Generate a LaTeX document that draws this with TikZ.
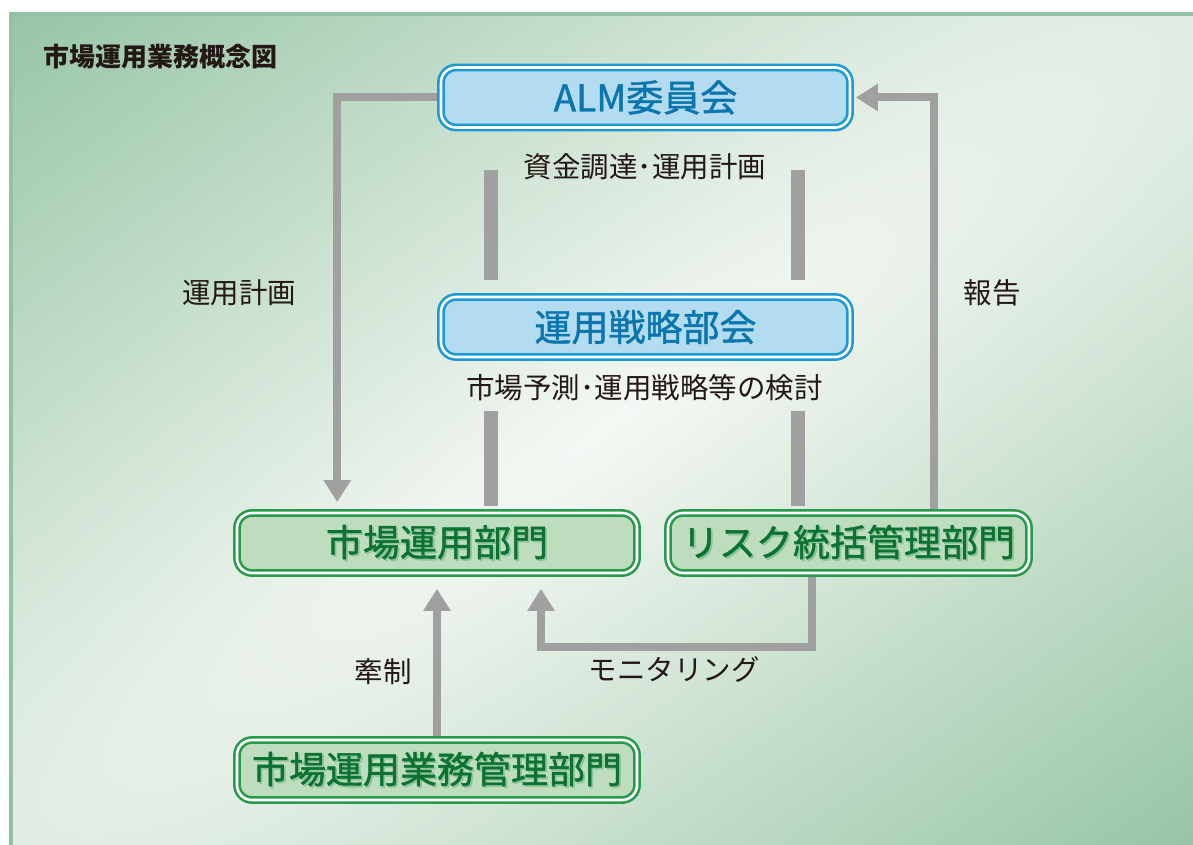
\documentclass[tikz,border=0pt]{standalone}
\usepackage{fontspec}
\setmainfont{Noto Sans CJK JP}
\newfontfamily\medfont[FakeBold=1.2]{Noto Sans CJK JP}
\usepackage{tikz}
\usetikzlibrary{arrows.meta, calc, backgrounds}
\definecolor{bgGreen}{RGB}{150,196,165}
\definecolor{bgWhite}{RGB}{245,248,244}
\definecolor{frameGreen}{RGB}{146,193,163}
\definecolor{lineGray}{RGB}{160,160,160}
\definecolor{boxBlue}{RGB}{27,153,212}
\definecolor{fillBlue}{RGB}{180,220,240}
\definecolor{textBlue}{RGB}{10,118,173}
\definecolor{boxGreen}{RGB}{40,154,76}
\definecolor{fillGreen}{RGB}{190,221,190}
\definecolor{textGreen}{RGB}{12,114,50}
\definecolor{shadeGreen}{RGB}{140,196,155}
\definecolor{inkBlack}{RGB}{35,24,21}
\newcommand{\grayArrow}{{Triangle[length=22pt, width=26pt]}}
\newcommand{\shadowed}[1]{\makebox[0pt][l]{\hspace{1.8pt}\raisebox{-1.8pt}{\color{shadeGreen}#1}}#1}

\begin{document}
\begin{tikzpicture}[x=1pt, y=-1pt,
	boxBase/.style={double=white, double distance=2.6pt, line width=2.6pt, rounded corners=15pt, inner sep=0pt, minimum height=60pt, font=\medfont\fontsize{37}{40}\selectfont},
	blueBox/.style={boxBase, draw=boxBlue, fill=fillBlue, text=textBlue},
	greenBox/.style={boxBase, draw=boxGreen, fill=fillGreen, text=textGreen},
	remark/.style={text=inkBlack, inner sep=0pt, font=\fontsize{28.5}{30}\selectfont},
	conn/.style={draw=lineGray, line width=8pt},
	bar/.style={draw=lineGray, line width=14.5pt}]
	\useasboundingbox (0,0) rectangle (1193,845);

	% boxes
	\node[blueBox, minimum width=409pt] (alm) at (645.5,97.5) {ALM委員会};
	\node[blueBox, minimum width=409pt] (senryaku) at (645.5,327) {運用戦略部会};
	\node[greenBox, minimum width=400pt] (shijo) at (437,543) {\shadowed{市場運用部門}};
	\node[greenBox, minimum width=361pt] (risk) at (848.5,543) {\shadowed{リスク統括管理部門}};
	\node[greenBox, minimum width=400pt] (gyomu) at (437,770) {\shadowed{市場運用業務管理部門}};

	% texts
	\node[remark, anchor=west, font=\fontsize{26}{28}\selectfont\bfseries] (title) at (43,57) {市場運用業務概念図};
	\node[remark] (plan) at (645,167) {資金調達･運用計画};
	\node[remark] (study) at (644.5,388) {市場予測･運用戦略等の検討};
	\node[remark] (unyo) at (239,293) {運用計画};
	\node[remark] (report) at (992,293) {報告};
	\node[remark] (check) at (383,672) {牽制};
	\node[remark] (monitor) at (674,670) {モニタリング};

	\begin{scope}[on background layer]
		\begin{scope}
			\clip (11,14) rectangle (1193,845);
			\begin{scope}[transform canvas={shift={(602,430)}, rotate=35}]
				\shade[inner color=bgWhite, outer color=bgGreen] (0,0) ellipse (3300 and 690);
			\end{scope}
		\end{scope}
		\draw[frameGreen, line width=4pt] (1193,14) -- (11,14) -- (11,845);

		\draw[conn, -\grayArrow] (alm.west) -| ([xshift=101.5pt, yshift=9.5pt]shijo.north west);
		\draw[conn, -\grayArrow] ([xshift=85pt]risk.north) |- ([xshift=4.5pt]alm.east);
		\draw[conn, -\grayArrow] (gyomu.north) -- ([yshift=-14.5pt]shijo.south);
		\draw[conn, -\grayArrow] ([xshift=-36.5pt]risk.south) -- ++(0,72.5) -| ([xshift=104pt, yshift=-14.5pt]shijo.south);

		\foreach \dx in {-154.5, 152.5} {
			\draw[bar, shorten <=41.5pt, shorten >=16pt] ([xshift=\dx pt]alm.south) -- ([xshift=\dx pt]senryaku.north);
			\draw[bar, shorten <=53pt, shorten >=5.5pt] ([xshift=\dx pt]senryaku.south) -- ([xshift=\dx pt]senryaku.south |- shijo.north);
		}
	\end{scope}
\end{tikzpicture}
\end{document}
